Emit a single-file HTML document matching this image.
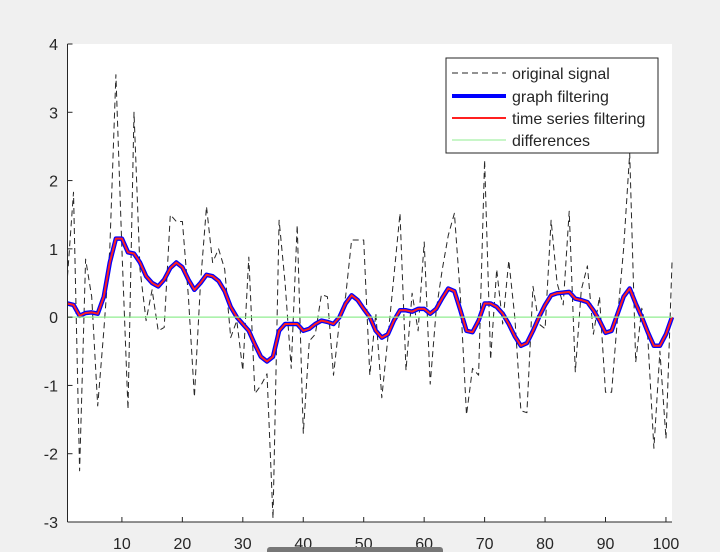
<!DOCTYPE html>
<html><head><meta charset="utf-8"><style>
html,body{margin:0;padding:0;background:#f0f0f0;}
svg{display:block;font-family:"Liberation Sans",Arial,sans-serif;}
</style></head><body>
<svg id="chart" width="720" height="552" viewBox="0 0 720 552" xmlns="http://www.w3.org/2000/svg">
<rect x="0" y="0" width="720" height="552" fill="#f0f0f0"/>
<rect x="67.5" y="44" width="604.5" height="478" fill="#ffffff"/>
<g id="marks"></g>
<g id="axes"></g>
<g>
<rect x="446" y="58" width="212" height="95" fill="#fff" stroke="#262626" stroke-width="1"/>
<line x1="452" y1="73" x2="506" y2="73" stroke="#262626" stroke-width="1" stroke-dasharray="6,4"/>
<text x="512" y="79" font-size="16" fill="#262626">original signal</text>
<line x1="452" y1="96" x2="506" y2="96" stroke="#0000ff" stroke-width="4"/>
<text x="512" y="102" font-size="16" fill="#262626">graph filtering</text>
<line x1="452" y1="118" x2="506" y2="118" stroke="#ff2020" stroke-width="2"/>
<text x="512" y="124" font-size="16" fill="#262626">time series filtering</text>
<line x1="452" y1="140" x2="506" y2="140" stroke="#90ee90" stroke-width="1"/>
<text x="512" y="146" font-size="16" fill="#262626">differences</text>
</g>
<rect x="267" y="547" width="176" height="8" rx="3" fill="#777"/>
</svg>
<script>
const original = [0.6,1.83,-2.25,0.85,0.3,-1.3,-0.2,1.0,3.55,1.0,-1.35,3.0,0.7,-0.05,0.4,-0.2,-0.15,1.5,1.4,1.4,0.3,-1.17,0.5,1.62,0.8,1.0,0.7,-0.3,-0.05,-0.78,0.88,-1.12,-1.0,-0.83,-2.95,1.42,0.5,-0.75,1.35,-1.7,-0.35,-0.25,0.33,0.3,-0.85,-0.05,0.3,1.13,1.13,1.13,-0.85,0.06,-1.18,-0.3,0.6,1.52,-0.78,0.35,-0.2,1.1,-0.98,0.1,0.7,1.2,1.52,0.3,-1.43,-0.75,-0.85,2.3,-0.62,0.7,-0.1,0.83,0.0,-1.37,-1.4,0.45,-0.1,-0.17,1.42,0.5,0.18,1.55,-0.8,0.4,0.75,-0.25,0.3,-1.1,-1.1,0.0,1.0,2.4,-0.66,0.13,-0.3,-1.92,-0.5,-1.78,0.8];
const graphFiltered = [0.2,0.18,0.02,0.06,0.07,0.05,0.3,0.8,1.15,1.15,0.95,0.93,0.8,0.6,0.5,0.45,0.55,0.72,0.8,0.73,0.55,0.4,0.5,0.62,0.6,0.53,0.38,0.15,0.0,-0.1,-0.2,-0.4,-0.58,-0.65,-0.58,-0.2,-0.1,-0.1,-0.1,-0.2,-0.17,-0.1,-0.05,-0.07,-0.1,0.0,0.2,0.32,0.25,0.12,0.0,-0.2,-0.3,-0.25,-0.05,0.1,0.1,0.08,0.12,0.12,0.05,0.12,0.28,0.42,0.38,0.1,-0.2,-0.22,-0.05,0.2,0.2,0.15,0.05,-0.1,-0.28,-0.42,-0.38,-0.2,0.0,0.18,0.32,0.35,0.36,0.37,0.27,0.25,0.22,0.1,-0.05,-0.23,-0.2,0.05,0.3,0.42,0.2,0.0,-0.22,-0.42,-0.42,-0.25,0.0];
const timeFiltered = graphFiltered.slice();
const differences = graphFiltered.map((v,i)=>v-timeFiltered[i]);
const xTicks = [10,20,30,40,50,60,70,80,90,100];
const yTicks = [-3,-2,-1,0,1,2,3,4];

const X0=67.5,X1=672,Y0=522,Y1=44;
const sx = x => X0 + (x-1)/(101-1)*(X1-X0);
const sy = y => Y0 - (y-(-3))/(4-(-3))*(Y0-Y1);
const NS="http://www.w3.org/2000/svg";
const marks=document.getElementById('marks');
const axes=document.getElementById('axes');
function pts(a){return a.map((v,i)=>sx(i+1).toFixed(1)+','+sy(v).toFixed(1)).join(' ');}
function poly(a,stroke,w,dash,name){
  const p=document.createElementNS(NS,'polyline');
  p.setAttribute('points',pts(a));p.setAttribute('fill','none');
  p.setAttribute('stroke',stroke);p.setAttribute('stroke-width',w);
  p.setAttribute('stroke-linejoin','round');
  if(dash)p.setAttribute('stroke-dasharray',dash);
  
  
  marks.appendChild(p);
}
poly(original,'#262626',1,'6,4','original-signal-line');
poly(graphFiltered,'#0000ff',4.5,null,'graph-filtering-line');
poly(timeFiltered,'#ff2020',2,null,'time-series-filtering-line');
poly(differences,'#90ee90',1.2,null,'differences-line');

function line(x1,y1,x2,y2,name){
  const l=document.createElementNS(NS,'line');
  l.setAttribute('x1',x1);l.setAttribute('y1',y1);l.setAttribute('x2',x2);l.setAttribute('y2',y2);
  l.setAttribute('stroke','#262626');l.setAttribute('stroke-width',1);
  
  
  axes.appendChild(l);
}
function text(x,y,s,anchor,name){
  const t=document.createElementNS(NS,'text');
  t.setAttribute('x',x);t.setAttribute('y',y);t.setAttribute('text-anchor',anchor);
  t.setAttribute('font-size','16');t.setAttribute('fill','#262626');
  t.textContent=s;
  
  
  axes.appendChild(t);
}
line(X0,Y0,X1,Y0,'x-axis');
line(X0,Y1,X0,Y0,'y-axis');
xTicks.forEach(v=>{line(sx(v),Y0,sx(v),Y0-5,'x-tick');text(sx(v),549,String(v),'middle','x-tick-label');});
yTicks.forEach(v=>{line(X0,sy(v),X0+5,sy(v),'y-tick');text(58,sy(v)+6,String(v),'end','y-tick-label');});
</script>
</body></html>
